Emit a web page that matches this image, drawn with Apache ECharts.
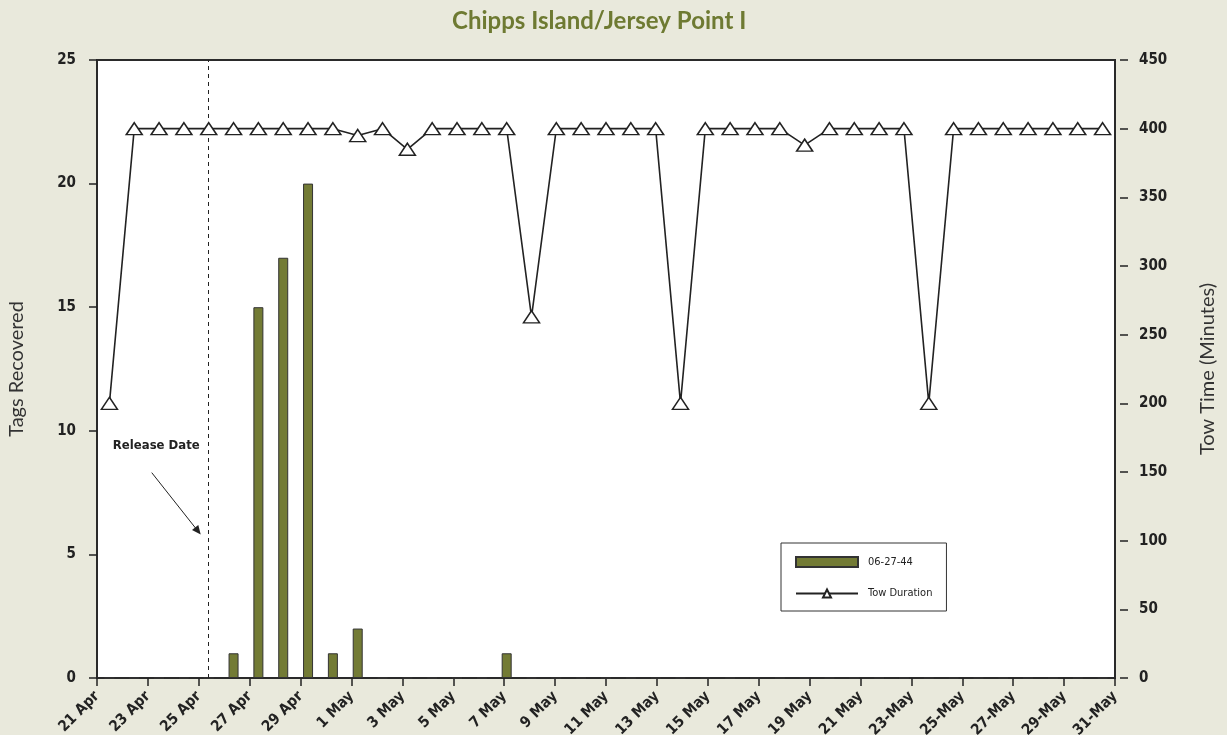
<!DOCTYPE html>
<html>
<head>
<meta charset="utf-8">
<script src="https://cdn.jsdelivr.net/npm/echarts@6/dist/echarts.min.js"></script>
<style>
html,body{margin:0;padding:0;background:#e9e9dc;}
#chart{width:1227px;height:735px;}
</style>
</head>
<body>
<div id="chart"></div>
<script>
// ---- data ----
const categories = ["21 Apr","22 Apr","23 Apr","24 Apr","25 Apr","26 Apr","27 Apr","28 Apr","29 Apr","30 Apr",
  "1 May","2 May","3 May","4 May","5 May","6 May","7 May","8 May","9 May","10 May",
  "11 May","12 May","13 May","14 May","15 May","16 May","17 May","18 May","19 May","20 May",
  "21 May","22 May","23 May","24 May","25 May","26 May","27 May","28 May","29 May","30 May","31 May"];
const tagsRecovered = [0,0,0,0,0,1,15,17,20,1,
  2,0,0,0,0,0,1,0,0,0,
  0,0,0,0,0,0,0,0,0,0,
  0,0,0,0,0,0,0,0,0,0,0];
const towDuration = [200,400,400,400,400,400,400,400,400,400,
  395,400,385,400,400,400,400,263,400,400,
  400,400,400,200,400,400,400,400,388,400,
  400,400,400,200,400,400,400,400,400,400,400];
const tickLabels = ["21 Apr","23 Apr","25 Apr","27 Apr","29 Apr","1 May","3 May","5 May","7 May","9 May",
  "11 May","13 May","15 May","17 May","19 May","21 May","23-May","25-May","27-May","29-May","31-May"];
const releaseDate = "25 Apr";
const seriesNames = ["06-27-44", "Tow Duration"];

const condFont = "'DejaVu Sans Condensed','DejaVu Sans',sans-serif";
const condW = 'bold condensed';
const nameFont = "Lato,'Open Sans',sans-serif";

const chart = echarts.init(document.getElementById('chart'));
const option = {
  backgroundColor: '#e9e9dc',
  animation: false,
  title: {
    text: 'Chipps Island/Jersey Point I',
    left: 447, top: 4,
    textStyle: {fontFamily: nameFont, fontWeight: 'bold', fontSize: 24, color: '#6e7a32'}
  },
  grid: {
    left: 97, right: 112, top: 60, bottom: 57,
    outerBoundsMode: 'none',
    show: true, backgroundColor: '#ffffff', borderColor: '#2a2a2a', borderWidth: 2
  },
  legend: {
    left: 781, top: 543,
    orient: 'vertical',
    backgroundColor: '#ffffff', borderColor: '#333', borderWidth: 1,
    padding: [13, 14, 12, 14],
    itemWidth: 62, itemHeight: 10, itemGap: 20,
    textStyle: {fontFamily: condFont, fontWeight: 'condensed', fontSize: 11, color: '#222', padding: [0, 0, 0, 5]},
    data: [{name: seriesNames[0], icon: 'rect'}, {name: seriesNames[1]}]
  },
  xAxis: [
    {
      type: 'category', data: categories, boundaryGap: true, position: 'bottom',
      axisLine: {show: false}, axisTick: {show: false}, axisLabel: {show: false}, splitLine: {show: false}
    },
    {
      type: 'value', min: 0, max: 40, interval: 2, position: 'bottom', offset: 4,
      axisLine: {show: false},
      axisTick: {show: true, length: 8, lineStyle: {color: '#222', width: 1.5}},
      axisLabel: {
        rotate: 45, margin: 12, fontFamily: condFont, fontWeight: condW, fontSize: 15, color: '#222',
        formatter: v => tickLabels[Math.round(v / 2)]
      },
      splitLine: {show: false}
    }
  ],
  yAxis: [
    {
      type: 'value', min: 0, max: 25, interval: 5, position: 'left', offset: 7,
      name: 'Tags Recovered', nameLocation: 'middle', nameGap: 63,
      nameTextStyle: {fontFamily: nameFont, fontSize: 20, color: '#333'},
      axisLine: {show: false},
      axisTick: {show: true, length: 8, lineStyle: {color: '#222', width: 1.5}},
      axisLabel: {margin: 14, fontFamily: condFont, fontWeight: condW, fontSize: 15, color: '#222'},
      splitLine: {show: false}
    },
    {
      type: 'value', min: 0, max: 450, interval: 50, position: 'right', offset: 5,
      name: 'Tow Time (Minutes)', nameLocation: 'middle', nameGap: 78, nameRotate: 90,
      nameTextStyle: {fontFamily: nameFont, fontSize: 20, color: '#333'},
      axisLine: {show: false},
      axisTick: {show: true, length: 8, lineStyle: {color: '#222', width: 1.5}},
      axisLabel: {margin: 19, fontFamily: condFont, fontWeight: condW, fontSize: 15, color: '#222'},
      splitLine: {show: false}
    }
  ],
  series: [
    {
      name: seriesNames[0], type: 'bar', xAxisIndex: 0, yAxisIndex: 0,
      data: tagsRecovered, barWidth: 10,
      itemStyle: {color: '#737b35', borderColor: '#333', borderWidth: 1},
      markLine: {
        silent: true, symbol: 'none', label: {show: false},
        lineStyle: {type: [4, 4], color: '#222', width: 1},
        data: [{xAxis: releaseDate}]
      },
      markPoint: {
        silent: true,
        symbol: 'circle', symbolSize: 0,
        label: {
          show: true, position: 'left', distance: 9,
          formatter: 'Release Date',
          fontFamily: condFont, fontWeight: condW, fontSize: 13, color: '#222'
        },
        data: [{coord: [releaseDate, 9.4]}]
      }
    },
    {
      name: seriesNames[1], type: 'line', xAxisIndex: 0, yAxisIndex: 1,
      data: towDuration, symbol: 'triangle', symbolSize: [16, 12], showAllSymbol: true,
      lineStyle: {color: '#222', width: 1.6},
      itemStyle: {color: '#ffffff', borderColor: '#222', borderWidth: 1.5},
      z: 5
    }
  ]
};
chart.setOption(option);

// Release date arrow, anchored to the release category
const anchor = chart.convertToPixel({xAxisIndex: 0, yAxisIndex: 0}, [releaseDate, 9.4]);
const arrowEnd = chart.convertToPixel({xAxisIndex: 0, yAxisIndex: 0}, [releaseDate, 5.8]);
const ax = anchor[0], ay = anchor[1];
const ex = arrowEnd[0] - 8, ey = arrowEnd[1];
const sx = ax - 57, sy = ay + 27;
const ang = Math.atan2(ey - sy, ex - sx);
const hl = 9, hw = 4;
const p1 = [ex - hl * Math.cos(ang) + hw * Math.sin(ang), ey - hl * Math.sin(ang) - hw * Math.cos(ang)];
const p2 = [ex - hl * Math.cos(ang) - hw * Math.sin(ang), ey - hl * Math.sin(ang) + hw * Math.cos(ang)];
chart.setOption({
  graphic: [
    {type: 'line', shape: {x1: sx, y1: sy, x2: ex - 4 * Math.cos(ang), y2: ey - 4 * Math.sin(ang)}, style: {stroke: '#222', lineWidth: 1}, z: 10},
    {type: 'polygon', shape: {points: [[ex, ey], p1, p2]}, style: {fill: '#222'}, z: 10}
  ]
});
</script>
</body>
</html>
